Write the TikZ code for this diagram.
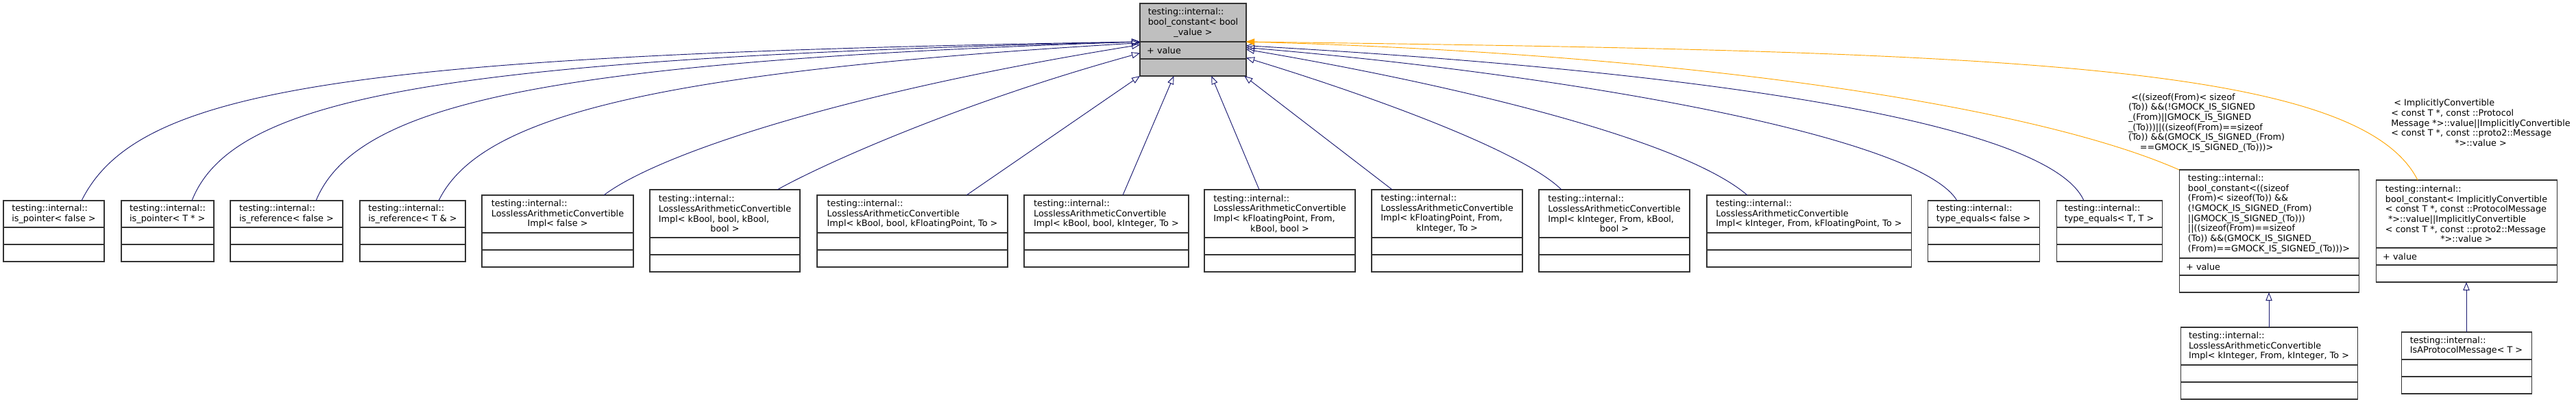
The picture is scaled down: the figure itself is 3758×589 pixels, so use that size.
\documentclass[tikz,border=0pt]{standalone}
\usepackage{fontspec}
\setmainfont{DejaVu Sans}
\usetikzlibrary{arrows.meta,positioning}

\definecolor{navyblue}{HTML}{191970}
\definecolor{tmplorange}{HTML}{FFA500}
\definecolor{basegray}{HTML}{BFBFBF}

\tikzset{
	cls/.style={draw=black!80, line width=0.8pt, fill=white, outer sep=0pt, inner xsep=2pt, inner ysep=0pt,
		font=\fontsize{9.6}{11}\selectfont, align=left},
	ttl/.style={cls, anchor=north west},
	inh/.style={draw=navyblue, line width=0.7pt, -{Triangle[open,length=9pt,width=7pt]}},
	tmpl/.style={draw=tmplorange, line width=0.7pt, -{Triangle[length=9pt,width=7pt]}},
	lbl/.style={font=\fontsize{9.6}{11}\selectfont, align=left, inner sep=0pt}
}

% class box: title, attributes, methods
\newcommand{\umlclass}[7][]{%
	\pgfmathsetlengthmacro{\clsw}{#4*0.75pt}%
	\pgfmathsetlengthmacro{\clsh}{#5*0.75pt}%
	\pgfmathsetlengthmacro{\clst}{#4*0.75pt-15pt}%
	\node[ttl,#1,minimum width=\clsw,minimum height=\clsh] (#2) at (#3) {#6};
	\node[cls,#1,below=0pt of #2,minimum width=\clsw,minimum height=18.75pt,text width=\clst,inner xsep=7.5pt] (#2v) {#7};
	\node[cls,#1,below=0pt of #2v,minimum width=\clsw,minimum height=18.75pt] (#2m) {};
}

\begin{document}
\begin{tikzpicture}[x=0.75pt,y=-0.75pt]
	\useasboundingbox (0,0) rectangle (3758,589);

	% base class
	\umlclass[fill=basegray]{bc}{1663,5}{155}{56}{testing::internal::\\bool\_constant< bool\\\hfil\_value >}{+ value}

	% derived classes
	\umlclass{ptrF}{5,293}{147}{39}{testing::internal::\\is\_pointer< false >}{}
	\umlclass{ptrT}{177,293}{135}{39}{testing::internal::\\is\_pointer< T * >}{}
	\umlclass{refF}{336,293}{164}{39}{testing::internal::\\is\_reference< false >}{}
	\umlclass{refT}{525,293}{154}{39}{testing::internal::\\is\_reference< T \& >}{}
	\umlclass{lacF}{703,285}{221}{55}{testing::internal::\\LosslessArithmeticConvertible\\\hfil Impl< false >}{}
	\umlclass{lacBB}{948,277}{219}{70}{testing::internal::\\LosslessArithmeticConvertible\\Impl< kBool, bool, kBool,\\\hfil bool >}{}
	\umlclass{lacBF}{1192,285}{278}{55}{testing::internal::\\LosslessArithmeticConvertible\\Impl< kBool, bool, kFloatingPoint, To >}{}
	\umlclass{lacBI}{1494,285}{240}{55}{testing::internal::\\LosslessArithmeticConvertible\\Impl< kBool, bool, kInteger, To >}{}
	\umlclass{lacFB}{1757,277}{220}{70}{testing::internal::\\LosslessArithmeticConvertible\\Impl< kFloatingPoint, From,\\\hfil kBool, bool >}{}
	\umlclass{lacFI}{2001,277}{220}{70}{testing::internal::\\LosslessArithmeticConvertible\\Impl< kFloatingPoint, From,\\\hfil kInteger, To >}{}
	\umlclass{lacIB}{2245,277}{220}{70}{testing::internal::\\LosslessArithmeticConvertible\\Impl< kInteger, From, kBool,\\\hfil bool >}{}
	\umlclass{lacIF}{2490,285}{298}{55}{testing::internal::\\LosslessArithmeticConvertible\\Impl< kInteger, From, kFloatingPoint, To >}{}
	\umlclass{teqF}{2812,293}{163}{39}{testing::internal::\\type\_equals< false >}{}
	\umlclass{teqT}{3000,293}{154}{39}{testing::internal::\\type\_equals< T, T >}{}

	% template instances
	\umlclass{bcSz}{3179,248}{262}{129}{testing::internal::\\bool\_constant<((sizeof\\(From)< sizeof(To)) \&\&\\(!GMOCK\_IS\_SIGNED\_(From)\\||GMOCK\_IS\_SIGNED\_(To)))\\||((sizeof(From)==sizeof\\(To)) \&\&(GMOCK\_IS\_SIGNED\_\\(From)==GMOCK\_IS\_SIGNED\_(To)))>}{+ value}
	\umlclass{bcImp}{3466,263}{264}{99}{testing::internal::\\bool\_constant< ImplicitlyConvertible\\< const T *, const ::ProtocolMessage\\\ *>::value||ImplicitlyConvertible\\< const T *, const ::proto2::Message\\\hfil *>::value >}{+ value}
	\umlclass{lacII}{3181,478}{258}{55}{testing::internal::\\LosslessArithmeticConvertible\\Impl< kInteger, From, kInteger, To >}{}
	\umlclass{isProto}{3503,485}{190}{40}{testing::internal::\\IsAProtocolMessage< T >}{}

	\node[lbl] (lblSz) at (3219,179.5) {\ <((sizeof(From)< sizeof\\(To)) \&\&(!GMOCK\_IS\_SIGNED\\\_(From)||GMOCK\_IS\_SIGNED\\\_(To)))||((sizeof(From)==sizeof\\(To)) \&\&(GMOCK\_IS\_SIGNED\_(From)\\\hfil ==GMOCK\_IS\_SIGNED\_(To)))>};
	\node[lbl] (lblImp) at (3619,179.5) {\ < ImplicitlyConvertible\\< const T *, const ::Protocol\\Message *>::value||ImplicitlyConvertible\\< const T *, const ::proto2::Message\\\hfil *>::value >};

	% inheritance
	\draw[inh] ([xshift=30.4pt]ptrF.north) .. controls (200,130) and (500,80) .. (bc.south west);
	\draw[inh] ([xshift=26.6pt]ptrT.north) .. controls (340,140) and (650,85) .. (bc.south west);
	\draw[inh] ([xshift=32.25pt]refF.north) .. controls (520,150) and (800,90) .. (bc.south west);
	\draw[inh] ([xshift=28.5pt]refT.north) .. controls (700,170) and (950,105) .. (bcv.172);
	\draw[inh] ([xshift=50.6pt]lacF.north) .. controls (960,225) and (1230,135) .. (bcv.174);
	\draw[inh] ([xshift=57.4pt]lacBB.north) .. controls (1200,240) and (1400,150) .. (bcv.183);
	\draw[inh] ([xshift=59.25pt]lacBF.north) -- (bcm.south west);
	\draw[inh] ([xshift=18pt]lacBI.north) -- (bcm.204);
	\draw[inh] ([xshift=-22.5pt]lacFB.north) -- (bcm.335);
	\draw[inh] ([xshift=-60pt]lacFI.north) -- ([xshift=-2pt]bcm.south east);
	\draw[inh] ([xshift=-57.75pt]lacIB.north) .. controls (2220,220) and (2000,140) .. (bcv.-8);
	\draw[inh] ([xshift=-67.5pt]lacIF.north) .. controls (2450,200) and (2100,120) .. (bcv.1);
	\draw[inh] ([xshift=-28.9pt]teqF.north) .. controls (2800,200) and (2300,110) .. (bcv.3);
	\draw[inh] ([xshift=-27.75pt]teqT.north) .. controls (2990,180) and (2500,105) .. (bcv.5);
	\draw[inh] (lacII.north) -- (bcSzm.south);
	\draw[inh] (isProto.north) -- (bcImpm.south);

	% template instantiation
	\draw[tmpl] (bcSz.north west) .. controls (2980,160) and (2500,80) .. (bc.south east);
	\draw[tmpl] ([xshift=-53.25pt]bcImp.north) .. controls (3440,90) and (2900,75) .. (bc.south east);
\end{tikzpicture}
\end{document}
